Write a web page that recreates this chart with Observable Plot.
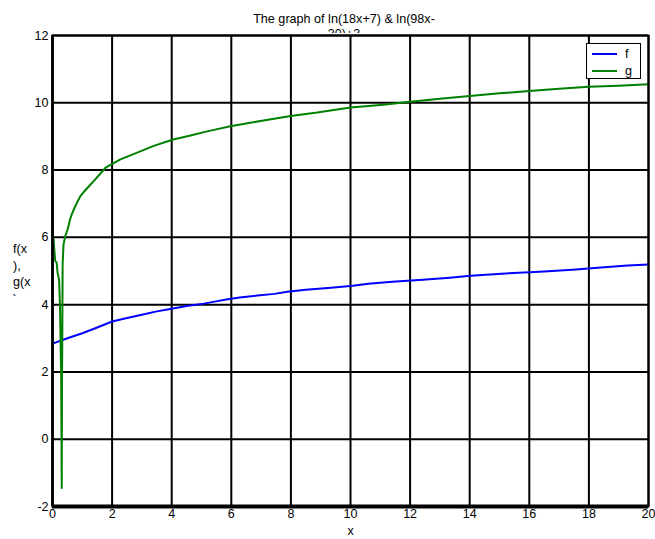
<!DOCTYPE html>
<html>
<head>
<meta charset="utf-8">
<script src="https://cdn.jsdelivr.net/npm/d3@7"></script>
<script src="https://cdn.jsdelivr.net/npm/@observablehq/plot@0.6"></script>
<style>
  html, body { margin: 0; padding: 0; background: #fff; }
  #wrap { position: relative; width: 655px; height: 539px; font-family: "Liberation Sans", Arial, sans-serif; color: #000; }
  #title { position: absolute; left: 234px; top: 12px; width: 220px; height: 21px; overflow: hidden;
           text-align: center; font-size: 12.6px; line-height: 15px; }
  #ylab { position: absolute; left: 13px; top: 241px; width: 30px; height: 55px; overflow: hidden;
          font-size: 12.6px; line-height: 16.5px; }
  #legend { position: absolute; left: 586px; top: 43px; width: 53px; height: 34px;
            border: 1.5px solid #000; background: #fff; font-size: 12.6px; }
  .row { position: absolute; left: 0; height: 16px; width: 53px; }
  .sw { position: absolute; left: 5px; top: 7px; width: 25px; height: 0; border-top: 2px solid; }
  .lb { position: absolute; left: 38px; top: 0; line-height: 16px; }
</style>
</head>
<body>
<div id="wrap">
  <div id="plot"></div>
  <div id="title"></div>
  <div id="ylab"></div>
  <div id="legend"></div>
</div>
<script>
// Axis ticks
const xTicks = [0, 2, 4, 6, 8, 10, 12, 14, 16, 18, 20];
const yTicks = [-2, 0, 2, 4, 6, 8, 10, 12];

// f(x) samples
const fX = [0, 0.5, 1, 1.5, 2, 2.5, 3, 3.5, 4, 4.5, 5.08, 5.44, 5.83, 6.28, 6.88, 7.45, 7.88, 8.5, 9.35, 10.08, 10.6, 11.4, 12.43, 13.33, 14.03, 15.07, 16.35, 17.45, 18.3, 19.3, 20];
const fY = [2.84, 3.0, 3.15, 3.32, 3.5, 3.6, 3.7, 3.8, 3.88, 3.96, 4.03, 4.09, 4.15, 4.21, 4.27, 4.32, 4.38, 4.44, 4.50, 4.56, 4.62, 4.68, 4.74, 4.80, 4.86, 4.92, 4.98, 5.04, 5.10, 5.16, 5.19];

// g(x) samples
const gX = [0, 0.01, 0.03, 0.09, 0.14, 0.17, 0.22, 0.25, 0.27, 0.29, 0.31, 0.32, 0.33, 0.34, 0.37, 0.43, 0.51, 0.59, 0.65, 0.74, 0.85, 0.94, 1.1, 1.39, 1.78, 2.28, 2.84, 3.40, 4.02, 4.63, 5.19, 5.97, 6.98, 7.99, 8.88, 10.0, 11.1, 12.0, 13, 14, 15, 16, 17, 18, 19, 20];
const gY = [6.39, 6.09, 5.99, 5.30, 5.25, 4.95, 4.75, 4.0, 3.0, 1.9, -1.45, 1.8, 3.3, 5.2, 5.79, 6.04, 6.24, 6.54, 6.69, 6.88, 7.08, 7.23, 7.40, 7.68, 8.07, 8.32, 8.52, 8.72, 8.90, 9.03, 9.15, 9.30, 9.46, 9.61, 9.71, 9.86, 9.94, 10.03, 10.12, 10.2, 10.28, 10.35, 10.42, 10.48, 10.51, 10.55];

const seriesNames = ["f", "g"];
const seriesColors = ["#0000ff", "#008000"];

const titleLines = ["The graph of ln(18x+7) & ln(98x-", "30)+3"];
const yLabelLines = ["f(x", "),", "g(x", ")"];
const xLabel = "x";

const fData = fX.map((x, i) => ({x, y: fY[i]}));
const gData = gX.map((x, i) => ({x, y: gY[i]}));

const chart = Plot.plot({
  width: 655,
  height: 539,
  marginTop: 35,
  marginRight: 7,
  marginBottom: 33,
  marginLeft: 52,
  style: {fontFamily: "'Liberation Sans', Arial, sans-serif", fontSize: "12.5px", color: "#000", background: "#fff"},
  x: {domain: [0, 20], ticks: xTicks, tickSize: 0, tickPadding: 3, label: null, tickFormat: d => String(d)},
  y: {domain: [-2, 12], ticks: yTicks, tickSize: 0, tickPadding: 4, label: null, tickFormat: d => String(d)},
  marks: [
    Plot.ruleX(xTicks, {stroke: "#000", strokeWidth: 2}),
    Plot.ruleY(yTicks, {stroke: "#000", strokeWidth: 2}),
    Plot.line(fData, {x: "x", y: "y", stroke: seriesColors[0], strokeWidth: 2}),
    Plot.line(gData, {x: "x", y: "y", stroke: seriesColors[1], strokeWidth: 2}),
    Plot.ruleY([-2], {stroke: "#000", strokeWidth: 4}),
    Plot.ruleX([0], {stroke: "#000", strokeWidth: 2.6}),
    Plot.frame({stroke: "#000", strokeWidth: 2}),
    Plot.text([xLabel], {frameAnchor: "bottom", dy: 24, lineAnchor: "middle", fill: "#000"})
  ]
});
document.getElementById("plot").appendChild(chart);

document.getElementById("title").innerHTML = titleLines.map(t => `<div>${t.replace(/&/g, "&amp;")}</div>`).join("");
document.getElementById("ylab").innerHTML = yLabelLines.map(t => `<div>${t}</div>`).join("");

const legend = document.getElementById("legend");
seriesNames.forEach((name, i) => {
  const row = document.createElement("div");
  row.className = "row";
  row.style.top = (2 + i * 16.5) + "px";
  row.innerHTML = `<span class="sw" style="border-color:${seriesColors[i]}"></span><span class="lb">${name}</span>`;
  legend.appendChild(row);
});
</script>
</body>
</html>
